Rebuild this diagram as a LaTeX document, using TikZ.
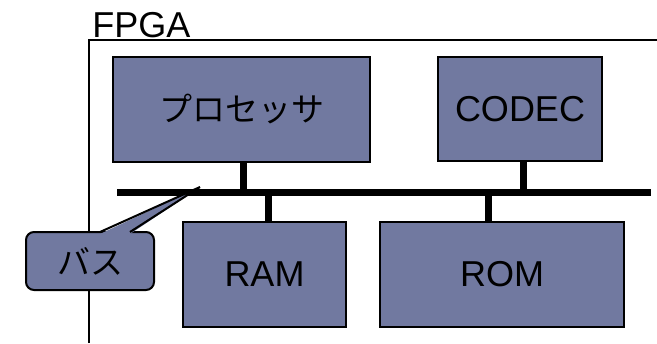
\documentclass[tikz,border=0pt]{standalone}
\usepackage{fontspec}
\setmainfont{Liberation Sans}
\newfontfamily\jpfont{Noto Sans CJK JP}
\usepackage{tikz}
\usetikzlibrary{positioning,calc}
\definecolor{blkfill}{RGB}{113,121,160}
\tikzset{
  blk/.style={draw=black,line width=1pt,fill=blkfill,rectangle,inner sep=0pt,
              font=\fontsize{18}{20}\selectfont},
  jp/.style={font=\fontsize{16.5}{18}\selectfont\jpfont},
  busline/.style={line width=3.5pt},
}

\begin{document}
\begin{tikzpicture}[x=0.5pt,y=-0.5pt]
 \useasboundingbox (0,0) rectangle (657,343);
 % FPGA frame
 \coordinate (fbl) at (89,343);
 \coordinate (ftl) at (89,40);
 \coordinate (ftr) at (657,40);
 \draw[line width=0.8pt] (fbl) -- (ftl) -- (ftr);
 \node[anchor=base west,font=\fontsize{18}{20}\selectfont,inner sep=0pt] (fpga) at (92,37) {FPGA};
 % bus
 \coordinate (busL) at (117,192);
 \coordinate (busR) at (651,192);
 \draw[busline] (busL) -- (busR);
 % blocks
 \node[blk,minimum width=128.5pt,minimum height=52.5pt] (cpu) at (241.5,109.5) {};
 \node[jp] at (cpu) {プロセッサ};
 \node[blk,minimum width=82pt,minimum height=52pt] (codec) at (520,109) {CODEC};
 \node[blk,minimum width=81.5pt,minimum height=52.5pt] (ram) at (264.5,274.5) {RAM};
 \node[blk,minimum width=122pt,minimum height=52.5pt] (rom) at (502,274.5) {ROM};
 \draw[busline] ([xshift=0.75pt]cpu.south) -- ([xshift=0.75pt]cpu.south |- busL);
 \draw[busline] ([xshift=1.5pt]codec.south) -- ([xshift=1.5pt]codec.south |- busL);
 \draw[busline] ([xshift=1.75pt]ram.north) -- ([xshift=1.75pt]ram.north |- busL);
 \draw[busline] ([xshift=-7pt]rom.north) -- ([xshift=-7pt]rom.north |- busL);
 % callout
 \node[blk,rounded corners=4pt,minimum width=64pt,minimum height=29pt] (buslbl) at (90,261) {};
 \node[jp] at (buslbl) {バス};
 \coordinate (tip) at (200,187);
 \coordinate (pa) at (100,232);
 \coordinate (pb) at (130,232);
 \fill[blkfill] ($(pa)+(0,2)$) -- (tip) -- ($(pb)+(0,2)$) -- cycle;
 \draw[line width=1pt,line join=miter] (pa) -- (tip) -- (pb);
\end{tikzpicture}
\end{document}
